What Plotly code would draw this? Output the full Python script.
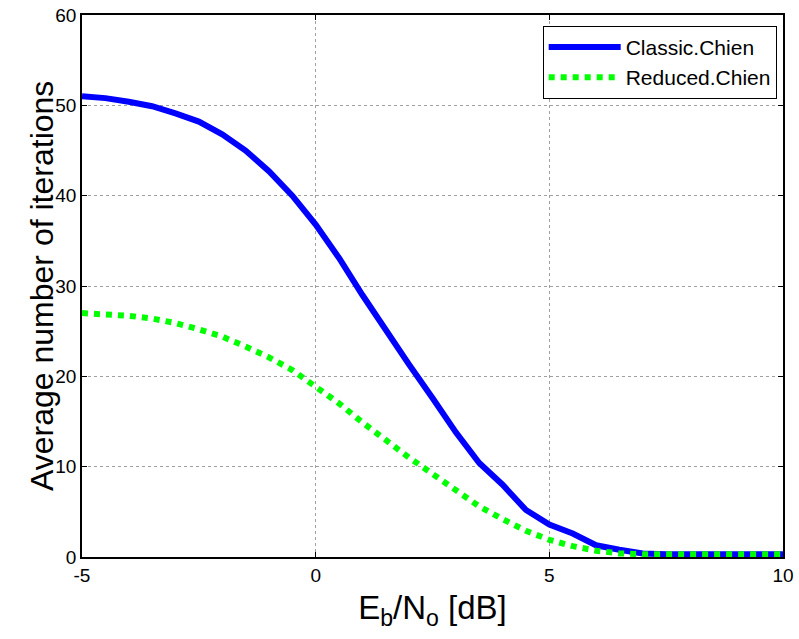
import plotly.graph_objects as go

# Data
ebno = [-5, -4.5, -4, -3.5, -3, -2.5, -2, -1.5, -1, -0.5, 0, 0.5, 1, 1.5, 2, 2.5,
        3, 3.5, 4, 4.5, 5, 5.5, 6, 6.5, 7, 7.5, 8, 8.5, 9, 9.5, 10]
classic_chien = [51.0, 50.8, 50.4, 49.9, 49.1, 48.2, 46.8, 45.0, 42.7, 40.0, 36.8, 33.1,
                 29.0, 25.0, 21.3, 17.6, 13.8, 10.4, 8.0, 5.2, 3.6, 2.6, 1.3, 0.8, 0.4,
                 0.3, 0.3, 0.3, 0.3, 0.3, 0.3]
reduced_chien = [27.0, 26.9, 26.7, 26.4, 25.9, 25.2, 24.4, 23.3, 22.1, 20.7, 18.9, 17.0,
                 14.9, 12.9, 11.0, 9.2, 7.4, 5.6, 4.2, 2.9, 1.9, 1.2, 0.7, 0.4, 0.3,
                 0.3, 0.3, 0.3, 0.3, 0.3, 0.3]
x_ticks = [-5, 0, 5, 10]
y_ticks = [0, 10, 20, 30, 40, 50, 60]

FONT = "Liberation Sans, Arial, sans-serif"

fig = go.Figure()
fig.add_trace(go.Scatter(x=ebno, y=classic_chien, mode="lines", name="Classic.Chien",
                         line=dict(color="#0000ff", width=6)))
fig.add_trace(go.Scatter(x=ebno, y=reduced_chien, mode="lines", name="Reduced.Chien",
                         line=dict(color="#00ff00", width=6, dash="dot")))

axis_common = dict(
    showline=True, linecolor="black", linewidth=1.5, mirror="ticks",
    ticks="inside", ticklen=5, tickcolor="black",
    showgrid=True, gridcolor="#a0a0a0", gridwidth=1, griddash="dot",
    zeroline=False, automargin=False, ticklabeloverflow="allow",
    tickfont=dict(family=FONT, size=19, color="black"),
)

fig.update_layout(
    width=799, height=639,
    paper_bgcolor="white", plot_bgcolor="white",
    margin=dict(l=82, r=16, t=15, b=82),
    font=dict(family=FONT, color="black"),
    showlegend=True,
    legend=dict(x=0.991, y=0.98, xanchor="right", yanchor="top",
                bgcolor="white", bordercolor="black", borderwidth=1,
                font=dict(family=FONT, size=21, color="black"),
                itemwidth=72),
    xaxis=dict(range=[-5, 10], tickvals=x_ticks, ticktext=[str(v) for v in x_ticks],
               title=dict(text="E<sub>b</sub>/N<sub>o</sub> [dB]",
                          font=dict(family=FONT, size=33, color="black"), standoff=11),
               **axis_common),
    yaxis=dict(range=[0, 60], tickvals=y_ticks, ticktext=[str(v) for v in y_ticks],
               **axis_common),
    annotations=[dict(text="Average number of iterations", textangle=-90,
                      xref="paper", yref="paper", x=-0.0571, y=0.5,
                      xanchor="center", yanchor="middle", showarrow=False,
                      borderpad=0,
                      font=dict(family=FONT, size=32, color="black"))],
)

# remove the default page margin so the figure sits at the window's top-left corner
fig.write_html("out.html", config={"displayModeBar": False},
               post_script="document.body.style.margin='0';")
